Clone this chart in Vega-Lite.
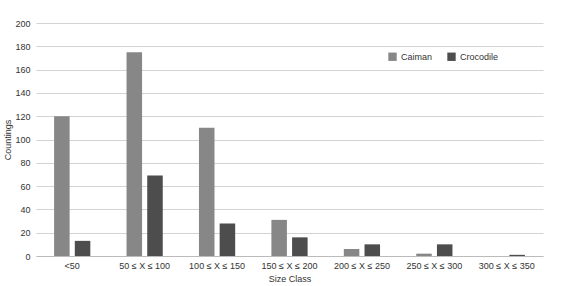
{
  "$schema": "https://vega.github.io/schema/vega-lite/v6.json",
  "autosize": "none",
  "width": 507,
  "height": 233,
  "padding": {"left": 36, "top": 23, "right": 23, "bottom": 30},
  "background": "white",
  "config": {
    "font": "Liberation Sans",
    "view": {"stroke": null},
    "axis": {"labelFont": "Liberation Sans", "titleFont": "Liberation Sans", "labelColor": "#333", "titleColor": "#333", "titleFontWeight": "normal"}
  },
  "data": {
    "values": [
      {"cls": "<50", "species": "Caiman", "count": 120},
      {"cls": "<50", "species": "Crocodile", "count": 13},
      {"cls": "50 ≤ X ≤ 100", "species": "Caiman", "count": 175},
      {"cls": "50 ≤ X ≤ 100", "species": "Crocodile", "count": 69},
      {"cls": "100 ≤ X ≤ 150", "species": "Caiman", "count": 110},
      {"cls": "100 ≤ X ≤ 150", "species": "Crocodile", "count": 28},
      {"cls": "150 ≤ X ≤ 200", "species": "Caiman", "count": 31},
      {"cls": "150 ≤ X ≤ 200", "species": "Crocodile", "count": 16},
      {"cls": "200 ≤ X ≤ 250", "species": "Caiman", "count": 6},
      {"cls": "200 ≤ X ≤ 250", "species": "Crocodile", "count": 10},
      {"cls": "250 ≤ X ≤ 300", "species": "Caiman", "count": 2},
      {"cls": "250 ≤ X ≤ 300", "species": "Crocodile", "count": 10},
      {"cls": "300 ≤ X ≤ 350", "species": "Caiman", "count": 0},
      {"cls": "300 ≤ X ≤ 350", "species": "Crocodile", "count": 1}
    ]
  },
  "mark": {"type": "bar"},
  "encoding": {
    "x": {
      "field": "cls", "type": "nominal", "sort": null,
      "scale": {"paddingInner": 0.5, "paddingOuter": 0.25},
      "axis": {"title": "Size Class", "labelAngle": 0, "labelFontSize": 9, "titleFontSize": 9, "ticks": false, "domainColor": "#bbb", "labelPadding": 5, "titlePadding": 4}
    },
    "xOffset": {"field": "species", "type": "nominal", "scale": {"paddingInner": 0.25}},
    "y": {
      "field": "count", "type": "quantitative",
      "scale": {"domain": [0, 200]},
      "axis": {"title": "Countings", "values": [0,20,40,60,80,100,120,140,160,180,200], "labelFontSize": 9, "titleFontSize": 9, "ticks": false, "domain": false, "gridColor": "#d3d3d3", "labelPadding": 6, "titlePadding": 2}
    },
    "color": {
      "field": "species", "type": "nominal",
      "scale": {"domain": ["Caiman", "Crocodile"], "range": ["#878787", "#4d4d4d"]},
      "legend": {"title": null, "orient": "none", "legendX": 352, "legendY": 29, "direction": "horizontal", "symbolType": "square", "symbolSize": 70, "symbolStrokeWidth": 0, "labelFontSize": 9, "labelColor": "#333", "columnPadding": 14}
    }
  }
}
